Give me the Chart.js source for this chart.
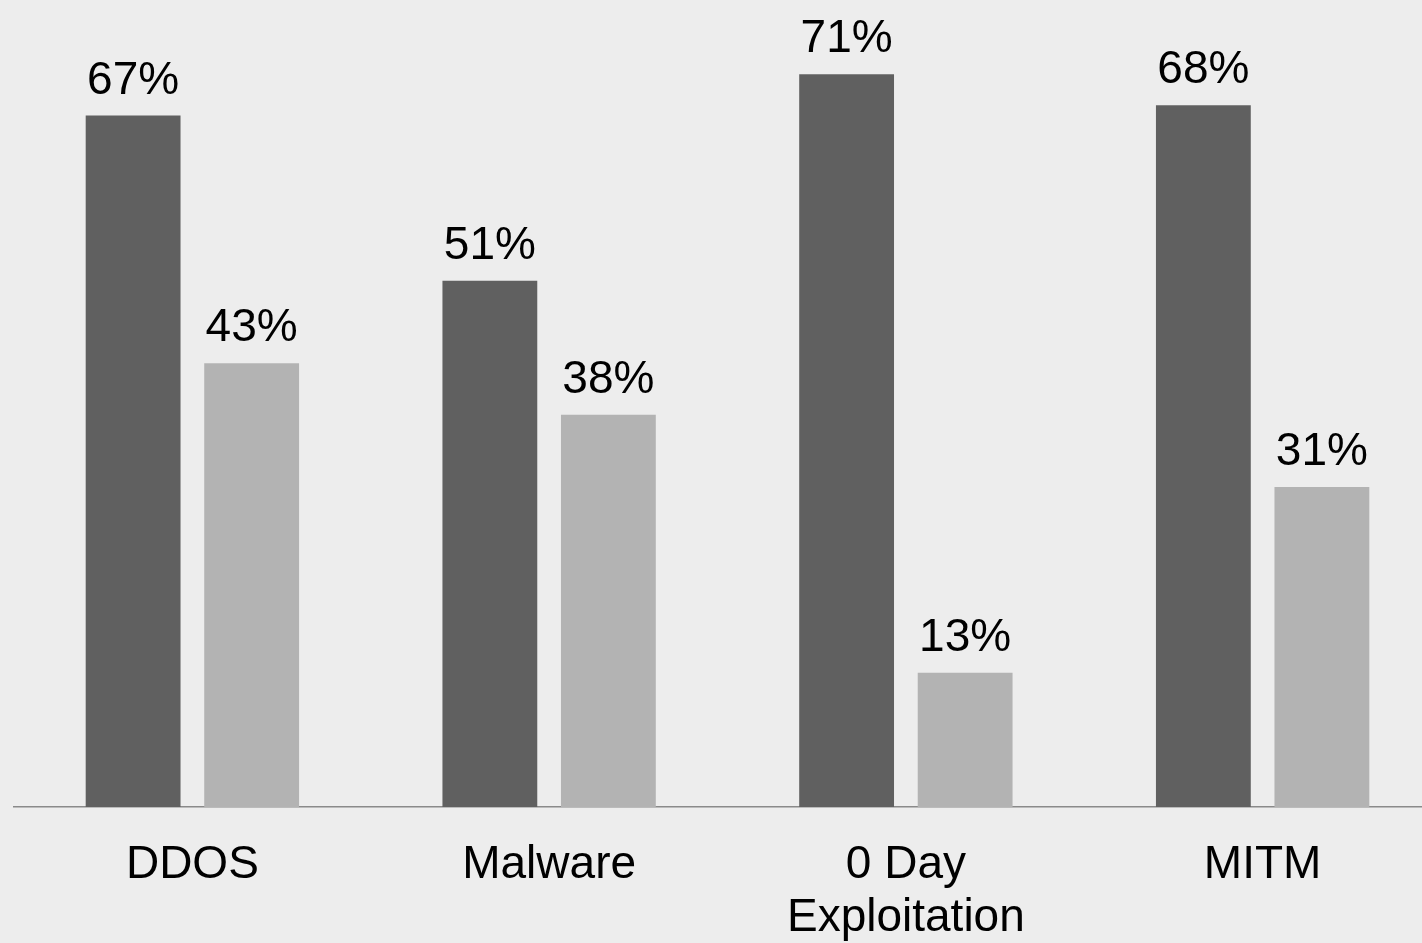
<!DOCTYPE html>
<html>
<head>
<meta charset="utf-8">
<script src="https://cdn.jsdelivr.net/npm/chart.js@4/dist/chart.umd.min.js"></script>
<style>
  html, body { margin: 0; padding: 0; background: #ededed; overflow: hidden; }
  #wrap { position: absolute; left: 0; top: 0; width: 1442px; height: 943px; }
</style>
</head>
<body>
<div id="wrap"><canvas id="c" width="1442" height="943"></canvas></div>
<script>
const categories = ['DDOS', 'Malware', ['0 Day', 'Exploitation'], 'MITM'];
const seriesA = [67, 51, 71, 68];
const seriesB = [43, 38, 13, 31];
const yMax = 78.2;

const bgPlugin = {
  id: 'bg',
  beforeDraw(chart) {
    const ctx = chart.ctx;
    ctx.save();
    ctx.fillStyle = '#ededed';
    ctx.fillRect(0, 0, chart.width, chart.height);
    ctx.restore();
  }
};

const valueLabels = {
  id: 'valueLabels',
  afterDatasetsDraw(chart) {
    const ctx = chart.ctx;
    ctx.save();
    ctx.font = '46px "Liberation Sans", Arial, sans-serif';
    ctx.fillStyle = '#000';
    ctx.textAlign = 'center';
    ctx.textBaseline = 'alphabetic';
    chart.data.datasets.forEach((ds, di) => {
      chart.getDatasetMeta(di).data.forEach((bar, i) => {
        ctx.fillText(ds.data[i] + '%', bar.x, bar.y - 22);
      });
    });
    ctx.restore();
  }
};

new Chart(document.getElementById('c'), {
  type: 'bar',
  data: {
    labels: categories,
    datasets: [
      { data: seriesA, backgroundColor: '#606060', categoryPercentage: 0.6645, barPercentage: 0.8 },
      { data: seriesB, backgroundColor: '#b3b3b3', categoryPercentage: 0.6645, barPercentage: 0.8 }
    ]
  },
  options: {
    responsive: false,
    animation: false,
    layout: { padding: { left: 14, right: 1, top: 0, bottom: 0 } },
    plugins: { legend: { display: false }, tooltip: { enabled: false } },
    scales: {
      x: {
        grid: { display: false, drawTicks: false },
        border: { display: true, color: '#8a8a8a', width: 1.5 },
        ticks: {
          color: '#000',
          padding: 32,
          maxRotation: 0,
          autoSkip: false,
          font: { family: '"Liberation Sans", Arial, sans-serif', size: 46, lineHeight: 1.15 }
        },
        afterFit(scale) { scale.height = 136; }
      },
      y: {
        display: false,
        min: 0,
        max: yMax
      }
    }
  },
  plugins: [bgPlugin, valueLabels]
});
</script>
</body>
</html>
